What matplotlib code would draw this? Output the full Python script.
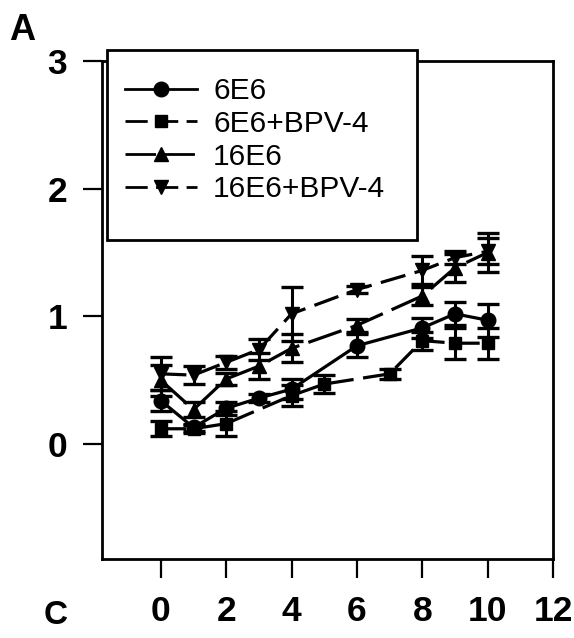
import matplotlib
matplotlib.use("Agg")
import matplotlib.pyplot as plt
from matplotlib.lines import Line2D
from matplotlib.patches import Rectangle

plt.rcParams['font.family'] = ['Liberation Sans', 'DejaVu Sans']

# Time points and measured values (mean +/- error) for each construct
labels = ["6E6", "6E6+BPV-4", "16E6", "16E6+BPV-4"]

x_6e6 = [0, 1, 2, 3, 4, 6, 8, 9, 10]
y_6e6 = [0.34, 0.13, 0.28, 0.36, 0.43, 0.77, 0.91, 1.02, 0.97]
e_6e6 = [0.08, 0.03, 0.05, 0.03, 0.08, 0.09, 0.08, 0.09, 0.13]

x_6e6_bpv = [0, 1, 2, 4, 5, 7, 8, 9, 10]
y_6e6_bpv = [0.12, 0.12, 0.16, 0.38, 0.47, 0.55, 0.81, 0.79, 0.79]
e_6e6_bpv = [0.06, 0.03, 0.10, 0.08, 0.07, 0.04, 0.07, 0.12, 0.12]

x_16e6 = [0, 1, 2, 3, 4, 6, 8, 9, 10]
y_16e6 = [0.50, 0.27, 0.51, 0.61, 0.75, 0.93, 1.16, 1.38, 1.50]
e_16e6 = [0.12, 0.06, 0.05, 0.10, 0.11, 0.05, 0.07, 0.11, 0.15]

x_16e6_bpv = [0, 1, 2, 3, 4, 6, 8, 9, 10]
y_16e6_bpv = [0.55, 0.54, 0.64, 0.74, 1.02, 1.21, 1.36, 1.46, 1.51]
e_16e6_bpv = [0.13, 0.07, 0.05, 0.08, 0.21, 0.03, 0.11, 0.05, 0.10]

x_ticks = [0, 2, 4, 6, 8, 10, 12]
y_ticks = [0, 1, 2, 3]

W, H = 574, 638


def fx(px):
    return px / W


def fy(py):
    return 1 - py / H


fig = plt.figure(figsize=(W / 100, H / 100), dpi=100)
ax = fig.add_axes([fx(102), fy(559), fx(553) - fx(102), fy(61) - fy(559)])
ax.set_xlim(-1.8, 12)
ax.set_ylim(-0.9, 3.0)

styles = [
    dict(marker="o", ms=10.5, ls="-"),
    dict(marker="s", ms=9, ls=(0, (8, 3))),
    dict(marker="^", ms=10.5, ls=(0, (11, 3))),
    dict(marker="v", ms=10.5, ls=(0, (8, 3))),
]
series = [
    (x_6e6, y_6e6, e_6e6),
    (x_6e6_bpv, y_6e6_bpv, e_6e6_bpv),
    (x_16e6, y_16e6, e_16e6),
    (x_16e6_bpv, y_16e6_bpv, e_16e6_bpv),
]

handles = []
for (xs, ys, es), st, lab in zip(series, styles, labels):
    ax.errorbar(xs, ys, yerr=es, color="black", lw=2.3, elinewidth=2.2,
                capsize=8, capthick=2.4, marker=st["marker"], ms=st["ms"],
                linestyle=st["ls"], mfc="black", mec="black")
    handles.append(Line2D([], [], color="black", lw=2, linestyle=st["ls"],
                          marker=st["marker"], ms=st["ms"], label=lab))

for sp in ax.spines.values():
    sp.set_linewidth(2)

ax.set_xticks(x_ticks)
ax.set_yticks(y_ticks)
ax.set_xticklabels([str(v) for v in x_ticks])
ax.set_yticklabels([str(v) for v in y_ticks])
ax.tick_params(direction="out", length=14, width=1.6, labelsize=25.5, color="black")
ax.tick_params(axis="x", pad=12)
ax.tick_params(axis="y", pad=11)
for t in ax.get_xticklabels() + ax.get_yticklabels():
    t.set_fontweight("bold")

# Legend frame (drawn over the top spine)
frame = Rectangle((fx(107), fy(240)), fx(417) - fx(107), fy(50) - fy(240),
                  transform=fig.transFigure, facecolor="white",
                  edgecolor="black", lw=2, zorder=10)
fig.patches.append(frame)

leg = fig.legend(handles=handles, loc="upper left",
                 bbox_to_anchor=(fx(125), fy(77)), bbox_transform=fig.transFigure,
                 frameon=False, fontsize=21.5, handlelength=2.4,
                 handletextpad=0.55, labelspacing=0.16, borderpad=0,
                 borderaxespad=0)
leg.set_zorder(11)

fig.text(fx(22), fy(30), "A", fontsize=26, fontweight="bold",
         ha="center", va="center")
fig.text(fx(56), fy(616), "C", fontsize=24, fontweight="bold",
         ha="center", va="center")

fig.savefig("out.png", dpi=100)
